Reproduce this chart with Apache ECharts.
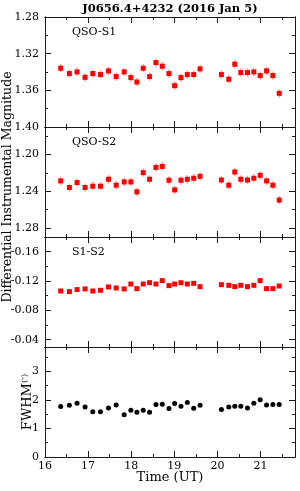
<!DOCTYPE html>
<html><head><meta charset="utf-8">
<script src="https://cdn.jsdelivr.net/npm/echarts@6/dist/echarts.min.js"></script>
<style>html,body{margin:0;padding:0;background:#fff}#c{width:300px;height:491px}</style>
</head><body><div id="c"></div>
<script>
// ---- data ----
const time = [16.364,16.566,16.744,16.930,17.109,17.287,17.473,17.651,17.837,17.992,18.132,18.279,18.426,18.574,18.721,18.876,19.008,19.155,19.302,19.450,19.597,20.093,20.264,20.403,20.543,20.698,20.845,20.992,21.140,21.287,21.434];
const qsoS1 = [1.3359,1.3417,1.3399,1.3458,1.3417,1.3428,1.3388,1.3450,1.3399,1.3461,1.3509,1.3359,1.3450,1.3297,1.3337,1.3417,1.3549,1.3461,1.3428,1.3428,1.3366,1.3428,1.3479,1.3315,1.3406,1.3406,1.3399,1.3439,1.3388,1.3439,1.3633];
const qsoS1Err = [0.0045,0.0045,0.0045,0.0045,0.0045,0.0045,0.0045,0.0045,0.0045,0.0045,0.0045,0.0045,0.0045,0.0045,0.0045,0.0045,0.0045,0.0045,0.0045,0.0045,0.0045,0.0045,0.0045,0.0045,0.0045,0.0045,0.0045,0.0045,0.0045,0.0045,0.0045];
const qsoS2 = [1.2288,1.2360,1.2306,1.2360,1.2346,1.2346,1.2270,1.2335,1.2299,1.2299,1.2407,1.2198,1.2270,1.2141,1.2130,1.2281,1.2386,1.2281,1.2270,1.2259,1.2238,1.2278,1.2335,1.2191,1.2270,1.2278,1.2259,1.2227,1.2288,1.2335,1.2497];
const qsoS2Err = [0.0045,0.0045,0.0045,0.0045,0.0045,0.0045,0.0045,0.0045,0.0045,0.0045,0.0045,0.0045,0.0045,0.0045,0.0045,0.0045,0.0045,0.0045,0.0045,0.0045,0.0045,0.0045,0.0045,0.0045,0.0045,0.0045,0.0045,0.0045,0.0045,0.0045,0.0045];
const s1s2 = [-0.1064,-0.1055,-0.1083,-0.1092,-0.1064,-0.1073,-0.1119,-0.1105,-0.1092,-0.1159,-0.1096,-0.1159,-0.1177,-0.1159,-0.1205,-0.1137,-0.1159,-0.1177,-0.1159,-0.1168,-0.1123,-0.1150,-0.1141,-0.1123,-0.1141,-0.1123,-0.1141,-0.1205,-0.1096,-0.1096,-0.1132];
const fwhm = [1.765,1.812,1.882,1.753,1.588,1.588,1.718,1.824,1.482,1.635,1.565,1.635,1.565,1.835,1.847,1.694,1.870,1.776,1.906,1.706,1.812,1.659,1.753,1.776,1.776,1.718,1.882,2.000,1.824,1.835,1.835];

const xTicks = [16,17,18,19,20,21];
const xMinorTicks = [16.5,17.5,18.5,19.5,20.5,21.5];
const s1Ticks = [1.28,1.32,1.36,1.40];
const s1Minor = [1.30,1.34,1.38];
const s2Ticks = [1.20,1.24,1.28];
const s2Minor = [1.18,1.22,1.26];
const dTicks = [-0.16,-0.12,-0.08,-0.04];
const dMinor = [-0.18,-0.14,-0.10,-0.06];
const fTicks = [0,1,2,3];
const fMinor = [0.5,1.5,2.5,3.5];

const panelNames = ['QSO-S1','QSO-S2','S1-S2',''];
const titleText = 'J0656.4+4232 (2016 Jan 5)';
const yTitle = 'Differential Instrumental Magnitude';
const xTitle = 'Time (UT)';

// ---- layout / style ----
const FONT = 'DejaVu Serif';
const LEFT = 45, RIGHT = 5, TOP = 17, H = 110;
const AX = '#1a1a1a';
const panels = [
  {min:1.28, max:1.40, inverse:true, major:s1Ticks, minor:s1Minor, fmt:v=>v.toFixed(2)},
  {min:1.17, max:1.29, inverse:true, major:s2Ticks, minor:s2Minor, fmt:v=>v.toFixed(2)},
  {min:-0.18, max:-0.03, inverse:true, major:dTicks, minor:dMinor, fmt:v=>v.toFixed(2)},
  {min:0, max:3.85, inverse:false, major:fTicks, minor:fMinor, fmt:v=>String(Math.round(v))}
];

const grid = [], xAxis = [], yAxis = [];
panels.forEach((p, i) => {
  grid.push({left:LEFT, right:RIGHT, top:TOP + i*H, height:H});
  const baseX = {gridIndex:i, type:'value', min:16, max:21.8, splitLine:{show:false},
    axisLine:{show:true, onZero:false, lineStyle:{color:AX, width:1}}};
  [['bottom', true], ['bottom', false], ['top', true], ['top', false]].forEach(([pos, maj]) => {
    xAxis.push(Object.assign({}, baseX, {
      position: pos,
      axisTick:{show:true, inside:true, length: maj ? 6 : 3, customValues: maj ? xTicks : xMinorTicks, lineStyle:{color:AX}},
      axisLabel:{show: (i === 3 && pos === 'bottom' && maj), customValues: xTicks, fontFamily:FONT, fontSize:11, color:'#000', margin:4, formatter:v=>String(Math.round(v))}
    }));
  });
  const baseY = {gridIndex:i, type:'value', min:p.min, max:p.max, inverse:p.inverse, splitLine:{show:false},
    axisLine:{show:true, onZero:false, lineStyle:{color:AX, width:1}}};
  [['left', true], ['left', false], ['right', true], ['right', false]].forEach(([pos, maj]) => {
    yAxis.push(Object.assign({}, baseY, {
      position: pos,
      axisTick:{show:true, inside:true, length: maj ? 6 : 3, customValues: maj ? p.major : p.minor, lineStyle:{color:AX}},
      axisLabel:{show: (pos === 'left' && maj), customValues: p.major, fontFamily:FONT, fontSize:11, color:'#000', margin:6, formatter:p.fmt}
    }));
  });
});

function errSeries(i, vals, errs) {
  return {
    type:'custom', xAxisIndex:i*4, yAxisIndex:i*4, z:2,
    data: time.map((t, k) => [t, vals[k] - errs[k], vals[k] + errs[k]]),
    renderItem: (params, api) => {
      const a = api.coord([api.value(0), api.value(1)]);
      const b = api.coord([api.value(0), api.value(2)]);
      return {type:'line', shape:{x1:a[0], y1:a[1], x2:b[0], y2:b[1]}, style:{stroke:'#ff9090', lineWidth:1.3}};
    }
  };
}
function scatter(i, vals, symbol, color, size) {
  return {type:'scatter', xAxisIndex:i*4, yAxisIndex:i*4, z:3, symbol:symbol, symbolSize:size,
    itemStyle:{color:color, opacity:1}, data: time.map((t, k) => [t, vals[k]]), animation:false};
}

const series = [
  errSeries(0, qsoS1, qsoS1Err), scatter(0, qsoS1, 'rect', '#ff0000', 5),
  errSeries(1, qsoS2, qsoS2Err), scatter(1, qsoS2, 'rect', '#ff0000', 5),
  scatter(2, s1s2, 'rect', '#ff0000', 5),
  scatter(3, fwhm, 'circle', '#000000', 5)
];

const graphic = [
  {type:'text', x:LEFT + (300-LEFT-RIGHT)/2, y:9, style:{text:titleText, font:'bold 11.5px "DejaVu Serif"', fill:'#000', align:'center', verticalAlign:'middle'}},
  {type:'text', x:7.5, y:TOP + 1.5*H + 5, rotation:Math.PI/2, style:{text:yTitle, font:'12.5px "DejaVu Serif"', fill:'#000', align:'center', verticalAlign:'middle'}},
  {type:'text', x:28, y:TOP + 3.5*H, rotation:Math.PI/2, style:{text:'FWHM{s|(″)}', rich:{s:{fontSize:8, fontFamily:FONT, padding:[0,0,7,0]}}, font:'13px "DejaVu Serif"', fill:'#000', align:'center', verticalAlign:'middle'}},
  {type:'text', x:LEFT + (300-LEFT-RIGHT)/2, y:478, style:{text:xTitle, font:'13px "DejaVu Serif"', fill:'#000', align:'center', verticalAlign:'middle'}}
];
panelNames.forEach((n, i) => {
  if (n) graphic.push({type:'text', x:72, y:TOP + i*H + 15, style:{text:n, font:'11px "DejaVu Serif"', fill:'#000', align:'left', verticalAlign:'middle'}});
});

const chart = echarts.init(document.getElementById('c'), null, {renderer:'canvas'});
chart.setOption({animation:false, backgroundColor:'#fff', grid, xAxis, yAxis, series, graphic});
</script></body></html>
